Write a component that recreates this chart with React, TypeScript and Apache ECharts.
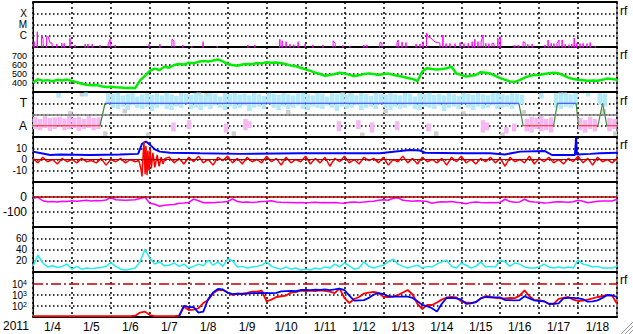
import React, { useEffect, useRef } from 'react';
import * as echarts from 'echarts';

const FONT = '"Liberation Sans", Arial, Helvetica, sans-serif';
const STEP = 0.125; // days between regular samples (day 0 = 2011-01-04 00:00)
const DAYS = 15;

const dayLabels = ['1/4', '1/5', '1/6', '1/7', '1/8', '1/9', '1/10', '1/11', '1/12', '1/13', '1/14', '1/15', '1/16', '1/17', '1/18'];
const yearLabel = '2011';
const sideTag = 'rf';

// Panel 1: X-ray flux (log10), class labels
const xrayClassLabels: Record<string, string> = { '-6': 'C', '-5': 'M', '-4': 'X' };
const XRAY_BACKGROUND = -7.3;
const xraySpikes: [number, number][] = [
  [0.03, -6.53], [0.11, -5.64], [0.22, -5.93], [0.26, -6.32], [0.35, -6.14], [0.39, -6.08], [0.44, -6.64], [0.49, -6.64],
  [0.61, -6.73], [0.74, -6.67], [0.8, -6.67], [0.95, -6.23], [1.08, -6.82], [1.34, -6.73], [1.41, -6.73], [1.52, -6.73],
  [1.72, -6.82], [1.93, -6.73], [1.98, -6.32], [2.11, -6.82], [2.98, -6.75], [3.26, -6.75], [3.57, -6.32], [3.62, -6.45],
  [3.85, -6.82], [4.08, -6.91], [4.37, -6.53], [4.73, -6.91], [5.52, -6.82], [5.7, -6.82], [6.34, -6.32], [6.4, -6.45],
  [6.5, -6.53], [6.6, -6.73], [6.7, -6.78], [6.81, -6.53], [6.99, -6.73], [7.19, -6.82], [7.45, -6.82], [7.71, -6.45],
  [7.76, -6.67], [7.96, -6.86], [8.14, -6.91], [8.5, -6.82], [8.58, -6.82], [8.91, -6.6], [8.96, -6.64], [9.35, -6.6],
  [9.38, -6.38], [9.48, -6.55], [9.58, -6.6], [9.84, -6.73], [9.94, -6.73], [10.02, -6.53], [10.11, -5.78], [10.15, -6.1],
  [10.2, -6.16], [10.25, -6.3], [10.3, -6.5], [10.35, -6.58], [10.4, -6.6], [10.45, -6.65], [10.53, -5.93], [10.61, -6.7],
  [10.71, -6.67], [10.84, -6.7], [10.97, -6.6], [11.07, -6.7], [11.18, -6.67], [11.28, -6.53], [11.35, -6.32], [11.43, -6.53],
  [11.51, -6.55], [11.56, -5.93], [11.63, -6.67], [11.71, -6.7], [11.79, -6.67], [11.84, -6.7], [11.94, -6.23], [12.0, -6.08],
  [12.36, -6.82], [12.46, -6.82], [12.59, -6.53], [12.64, -6.6], [12.71, -6.75], [12.82, -6.73], [13.15, -6.82], [13.23, -6.38],
  [13.31, -6.67], [13.38, -6.7], [13.46, -6.67], [13.51, -6.38], [13.59, -6.38], [13.67, -6.75], [13.77, -6.78], [13.84, -6.73],
  [13.9, -6.2], [13.97, -6.67], [14.05, -6.7], [14.13, -6.67], [14.23, -6.7], [14.31, -6.6], [14.44, -6.91],
];

// Panel 2: solar wind speed (green), sampled every STEP
const windSpeed = [
  403, 440, 425, 432, 420, 435, 428, 438, 422, 410,
  392, 380, 375, 378, 365, 356, 358, 352, 350, 345,
  348, 342, 430, 480, 535, 560, 545, 580, 570, 600,
  610, 605, 625, 620, 635, 645, 640, 650, 662, 640,
  610, 600, 592, 605, 612, 608, 622, 618, 630, 625,
  628, 620, 610, 595, 585, 570, 552, 535, 515, 500,
  480, 489, 500, 515, 505, 490, 478, 485, 500, 507,
  500, 490, 500, 505, 490, 480, 470, 455, 445, 420,
  530, 565, 555, 550, 555, 565, 580, 505, 490, 472,
  480, 490, 520, 515, 505, 480, 455, 435, 418, 412,
  432, 460, 478, 490, 488, 500, 508, 515, 508, 485,
  460, 445, 435, 430, 425, 428, 425, 435, 450, 445,
  435,
];

// Panel 3: sector state A = 0, T = 2
const stateLabels: Record<string, string> = { '0': 'A', '2': 'T' };
const stateTimes = [0, 1.72, 1.85, 12.48, 12.59, 13.37, 13.47, 13.95, 14.01, 14.51, 14.63, 14.74, 15];
const stateValues = [0, 0, 2, 2, 0, 0, 2, 2, 0, 0, 2, 0, 0];
const CLOUD_START = 15; // sample index where the T-cloud starts
const tCloudLo = [
  1.9, 1.6, 1.5, 1.7, 1.4, 1.8, 1.6, 1.5, 1.7, 1.3, 1.6, 1.8, 1.5, 1.4, 1.7, 1.6, 1.9, 1.5, 1.6, 1.4,
  1.7, 1.5, 1.8, 1.6, 1.4, 1.7, 1.5, 1.6, 1.8, 1.3, 1.6, 1.7, 1.5, 1.9, 1.6, 1.4, 1.7, 1.5, 1.6, 1.8,
  1.5, 1.4, 1.7, 1.6, 1.5, 1.8, 1.6, 1.3, 1.7, 1.5, 1.6, 1.8, 1.4, 1.6, 1.7, 1.5, 1.9, 1.6, 1.4, 1.7,
  1.5, 1.6, 1.8, 1.5, 1.4, 1.7, 1.6, 1.5, 1.8, 1.3, 1.6, 1.7, 1.5, 1.9, 1.6, 1.4, 1.7, 1.5, 1.6, 1.8,
  1.5, 1.6, 1.7, 1.5, 1.8, 1.9,
];
const tCloudHi = [
  2.9, 2.8, 2.92, 2.7, 2.85, 2.9, 2.6, 2.8, 2.9, 2.75, 2.88, 2.7, 2.92, 2.8, 2.65, 2.9, 2.85, 2.75, 2.92, 2.8,
  2.7, 2.9, 2.85, 2.6, 2.9, 2.8, 2.92, 2.75, 2.85, 2.7, 2.9, 2.8, 2.65, 2.92, 2.85, 2.75, 2.9, 2.8, 2.7, 2.88,
  2.92, 2.8, 2.7, 2.9, 2.85, 2.6, 2.9, 2.8, 2.92, 2.75, 2.85, 2.7, 2.9, 2.8, 2.65, 2.92, 2.85, 2.75, 2.9, 2.8,
  2.7, 2.9, 2.85, 2.6, 2.9, 2.8, 2.92, 2.75, 2.85, 2.7, 2.9, 2.8, 2.65, 2.92, 2.85, 2.75, 2.9, 2.8, 2.7, 2.88,
  2.92, 2.8, 2.7, 2.9, 2.85, 2.75,
];
const tCloudExtra: [number, number, number][] = [
  [0.6, 2.5, 2.9], [1.3, 2.6, 2.95], [13.0, 2.4, 2.9], [13.375, 1.6, 2.9], [13.5, 1.5, 2.85], [13.625, 1.7, 2.9],
  [13.75, 1.6, 2.8], [13.875, 1.8, 2.9], [14.2, 2.6, 2.9], [14.5, 1.9, 2.9], [14.625, 1.7, 2.85],
];
const aCloud: [number, number, number][] = [
  [0, -0.3, 0.8], [0.125, -0.4, 0.6], [0.25, -0.2, 0.85], [0.375, -0.45, 0.7], [0.5, -0.3, 0.75], [0.625, -0.1, 0.8],
  [0.75, -0.4, 0.65], [0.875, -0.3, 0.9], [1.0, -0.2, 0.7], [1.125, -0.45, 0.8], [1.25, -0.3, 0.6], [1.375, -0.2, 0.85],
  [1.5, -0.4, 0.7], [1.625, -0.3, 0.75],
  [3.55, -0.5, 0.3], [3.95, -0.3, 0.5], [4.9, -0.6, 0.2], [5.4, -0.4, 0.6], [5.5, -0.2, 0.4], [7.8, -0.5, 0.4],
  [8.3, -0.3, 0.5], [8.65, -0.6, 0.3], [9.3, -0.4, 0.4], [10.1, -0.5, 0.2], [11.5, -0.6, 0.5], [11.6, -0.4, 0.3],
  [12.1, -0.7, -0.1], [12.3, -0.5, 0.2],
  [12.625, -0.5, 0.6], [12.75, -0.6, 0.8], [12.875, -0.3, 0.7], [13.0, -0.5, 0.85], [13.125, -0.4, 0.6], [13.25, -0.6, 0.75],
  [14.0, -0.4, 0.7], [14.125, -0.6, 0.5], [14.25, -0.3, 0.8], [14.375, -0.5, 0.6], [14.75, -0.5, 0.7], [14.875, -0.3, 0.6],
];
const grayCloud: [number, number, number][] = [
  [0.9, 0.9, 1.3], [1.2, 2.6, 2.9], [1.8, -0.9, -0.5], [2.3, 1.1, 1.5], [2.9, -0.9, -0.6], [4.2, 2.7, 2.95], [4.4, 2.6, 2.9],
  [5.1, -0.9, -0.5], [6.5, 1.0, 1.4], [7.9, 2.7, 2.95], [8.1, 2.6, 2.9], [8.4, -0.9, -0.6], [9.0, 1.1, 1.5], [10.3, -0.9, -0.5],
  [11.0, 1.0, 1.3], [12.0, -0.9, -0.6], [12.55, 0.9, 1.4], [13.5, 2.6, 2.95], [13.6, 2.7, 2.95], [14.6, 1.0, 1.5], [14.9, -0.9, -0.5],
];

// Panel 4: magnetic field components (nT)
const bTotal: [number, number][] = [
  [0, 7], [0.18, 5.8], [0.44, 4], [0.69, 4.5], [1.46, 4], [2.23, 4.5], [2.7, 5], [2.8, 14], [2.9, 16], [3.01, 13],
  [3.13, 9], [3.26, 7], [3.52, 6], [4.29, 5.5], [5.32, 5], [6.86, 5.5], [7.89, 5.5], [8.91, 5.5], [9.43, 7.5], [9.68, 8.5],
  [9.94, 8], [10.07, 6], [10.97, 5.5], [11.74, 5.5], [12.12, 4.5], [12.51, 7], [13.15, 7.5], [13.33, 4], [13.92, 4],
  [13.95, 19.5], [13.97, 4.5], [14.31, 5], [14.56, 5.5], [15, 6],
];
const bz = [
  1, -3, 2, -2, 0, -4, 1, -2, 0, -3,
  1, -2, -1, -3, 1, -5, 0, -2, 1, -3,
  0, -2, 0, 0, 0, 0, 0, 0, 2, -3,
  1, -4, 2, -2, 3, -3, 0, -5, 2, -1,
  3, -3, 1, -4, 2, -2, 0, -3, 3, -2,
  1, -5, 2, -3, 0, -2, 3, -4, 1, -3,
  2, -6, 1, -2, 3, -3, 0, -4, 2, -1,
  1, -3, 2, -5, 0, -2, 3, -3, 1, -4,
  2, -2, 0, -3, 1, -5, 2, -2, 3, -3,
  0, -4, 1, -2, 2, -3, 1, -6, 2, -2,
  0, -3, 3, -4, 1, -2, 2, -3, 0, -4,
  1, -2, 3, -3, 1, -5, 2, -2, 0, -3,
  1,
];
const bzShock: [number, number][] = [
  [2.72, -1], [2.77, -8], [2.8, -15], [2.83, 5], [2.85, 16], [2.88, -13], [2.9, 12], [2.93, -14], [2.95, 8], [2.98, -10],
  [3.01, 10], [3.04, -8], [3.08, 6], [3.13, -7], [3.19, 4], [3.24, -6], [3.29, 2], [3.34, -4], [3.39, 1],
];

// Panel 5: Dst-like index
const dst = [
  -9, -2, -25, -32, -30, -33, -28, -30, -25, -28,
  -25, -22, -26, -24, -25, -20, -3, -18, -20, -22,
  -20, -18, -10, -2, -42, -48, -62, -55, -52, -50,
  -42, -40, -36, -14, -25, -38, -36, -38, -35, -33,
  -30, -12, -30, -35, -33, -36, -34, -30, -28, -25,
  -33, -35, -36, -37, -38, -36, -38, -37, -35, -38,
  -36, -38, -36, -40, -42, -35, -33, -36, -34, -30,
  -28, -22, -18, -22, -8, -5, -22, -25, -28, -25,
  -27, -30, -42, -35, -32, -33, -30, -35, -38, -45,
  -36, -34, -37, -38, -36, -38, -35, -15, -30, -35,
  -33, -15, -30, -33, -35, -40, -38, -33, -32, -33,
  -35, -32, -22, -28, -38, -33, -28, -27, -26, -27,
  -15,
];

// Panel 6: AE-like index
const ae = [
  10.7, 30, 16, 9, 11, 8, 10, 14, 5, 10,
  5, 7, 6, 7, 8, 10, 16.5, 10, 5, 3.5,
  5, 7, 18, 40, 25, 14, 18, 11, 12, 16,
  10, 14, 7, 10, 14, 11, 21, 12, 18, 10,
  23, 20, 9, 10, 7, 9, 10, 12, 18, 10,
  7, 5, 9, 5, 7, 3.5, 5, 3.5, 7, 5,
  9, 7, 14, 9, 16, 11, 5, 7, 18, 10,
  7, 10, 12, 18, 23, 14, 10, 7, 10, 12,
  7, 10, 9, 14, 18, 21, 10, 7, 16, 12,
  7, 10, 18, 9, 10, 9, 21, 18, 10, 16,
  14, 9, 7, 7, 9, 14, 9, 7, 9, 7,
  9, 7, 21, 14, 12, 9, 10, 7, 7, 7,
  10,
];

// Panel 7: electron flux (log)
const fluxThreshold = 10000;
const fluxRed = [
  12, 12, 12, 12, 12, 12, 12, 12, 12, 12,
  12, 12, 12, 12, 12, 12, 12, 12, 12, 12,
  12, 13, 25, 30, 15, 12, 12, 12, 12, 12,
  13, 80, 42, 45, 60, 175, 320, 1260, 2500, 2500,
  1500, 900, 1200, 1180, 1400, 1780, 1800, 2200, 250, 350,
  600, 700, 800, 1500, 1600, 2200, 2000, 2200, 2000, 2300,
  2100, 1800, 1300, 3500, 490, 175, 400, 600, 1200, 1500,
  1700, 1400, 630, 600, 650, 900, 1500, 2500, 1000, 150,
  51, 120, 117, 195, 350, 540, 600, 550, 250, 200,
  180, 200, 450, 740, 600, 500, 450, 450, 490, 480,
  800, 2300, 700, 320, 320, 250, 150, 150, 400, 490,
  600, 350, 265, 280, 350, 450, 600, 700, 900, 800,
  150,
];
const FLUX_BLUE_START = 30;
const fluxBlue = [
  11, 100, 77, 75, 25, 30, 400, 1500, 3100, 2800,
  1500, 1100, 1200, 1100, 1200, 1300, 1300, 1400, 1300, 1300,
  1400, 1900, 2000, 2100, 2000, 2500, 2600, 2400, 2700, 2600,
  2800, 2500, 2800, 3300, 2500, 800, 280, 300, 320, 500,
  1000, 1300, 1100, 700, 650, 650, 650, 650, 490, 250,
  120, 90, 60, 30, 150, 490, 500, 450, 350, 145,
  160, 220, 450, 600, 550, 550, 550, 320, 320, 300,
  320, 700, 450, 300, 260, 250, 145, 150, 160, 450,
  500, 500, 450, 380, 230, 250, 300, 500, 900, 850,
  600,
];

const sampled = (vals: number[], start = 0) => vals.map((v, i) => [(i + start) * STEP, v]);

export default function App() {
  const ref = useRef<HTMLDivElement>(null);
  useEffect(() => {
    if (!ref.current) return;
    const chart = echarts.init(ref.current, undefined, { renderer: 'svg' });

    const PH = 45;
    const grids = Array.from({ length: 7 }, (_, k) => ({
      left: 33, right: 16, top: 2 + PH * k, height: PH,
      show: true, borderColor: '#000', borderWidth: 1, backgroundColor: 'transparent',
    }));

    const dotV = { color: '#000', width: 1.5, type: [2, 3] as any };
    const dotH = { color: '#000', width: 1.5, type: [1.5, 2.5] as any };

    const xAxes: any[] = grids.map((_, k) => ({
      type: 'value', gridIndex: k, min: 0, max: DAYS, interval: 1,
      position: k === 6 ? 'top' : 'bottom',
      axisLine: { show: k < 6, onZero: false, lineStyle: { color: '#000', width: 2 } },
      axisTick: { show: false }, axisLabel: { show: false },
      splitLine: { show: true, lineStyle: dotV },
    }));
    xAxes.push({
      type: 'category', gridIndex: 6, data: dayLabels, boundaryGap: true, position: 'bottom',
      axisLine: { show: true, onZero: false, lineStyle: { color: '#000', width: 2 } },
      axisTick: { show: false },
      axisLabel: { color: '#000', fontSize: 12, fontFamily: FONT, margin: 4, interval: 0 },
      splitLine: { show: false },
    });
    xAxes.push({
      type: 'value', gridIndex: 0, min: 0, max: DAYS, position: 'top',
      axisLine: { show: true, onZero: false, lineStyle: { color: '#000', width: 2 } },
      axisTick: { show: false }, axisLabel: { show: false }, splitLine: { show: false },
    });

    const baseY = (k: number, extra: any) => ({
      type: 'value', gridIndex: k,
      axisLine: { show: true, onZero: false, lineStyle: { color: '#000', width: 1 } },
      axisTick: { show: false },
      splitLine: { show: true, lineStyle: dotH },
      ...extra,
      axisLabel: { color: '#000', fontSize: 10, lineHeight: 10, fontFamily: FONT, margin: 6, ...(extra.axisLabel || {}) },
    });

    const yAxes: any[] = [
      baseY(0, { min: -7, max: -3, interval: 1, axisLabel: { formatter: (v: number) => xrayClassLabels[String(v)] || '' } }),
      baseY(1, { min: 300, max: 800, interval: 100, axisLabel: { fontSize: 9, lineHeight: 8, formatter: (v: number) => (v > 300 && v < 800 ? String(v) : '') } }),
      baseY(2, { min: -1, max: 3, interval: 1, axisLabel: { fontSize: 12, lineHeight: 12, formatter: (v: number) => stateLabels[String(v)] || '' } }),
      baseY(3, { min: -20, max: 20, interval: 10, axisLabel: { formatter: (v: number) => (Math.abs(v) < 20 ? String(v) : '') } }),
      baseY(4, { min: -200, max: 100, interval: 100, axisLabel: { fontSize: 12, formatter: (v: number) => (v === 0 || v === -100 ? String(v) : '') } }),
      baseY(5, { min: 0, max: 80, interval: 20, axisLabel: { formatter: (v: number) => (v > 0 && v < 80 ? String(v) : '') } }),
      {
        type: 'log', gridIndex: 6, min: 10, max: 100000, logBase: 10,
        axisLine: { show: true, onZero: false, lineStyle: { color: '#000', width: 1 } },
        axisTick: { show: false },
        splitLine: { show: true, lineStyle: { ...dotH, color: ['#000', '#000', '#000', 'transparent', '#000'] } },
        axisLabel: {
          color: '#000', fontFamily: FONT, margin: 6,
          formatter: (v: number) => {
            const e = Math.round(Math.log10(v));
            return e >= 2 && e <= 4 ? `{b|10}{s|${e}}` : '';
          },
          rich: {
            b: { fontSize: 10, fontFamily: FONT, color: '#000', lineHeight: 9, padding: [2, 0, 0, 0] },
            s: { fontSize: 7, fontFamily: FONT, color: '#000', lineHeight: 7, verticalAlign: 'top' },
          },
        },
      },
    ];

    const line = (xi: number, data: any[], color: string, width: number, extra: any = {}) => ({
      type: 'line', xAxisIndex: xi, yAxisIndex: xi, data, showSymbol: false, symbol: 'none',
      lineStyle: { color, width }, itemStyle: { color }, clip: true, z: 3, silent: true, ...extra,
    });
    const mark = (value: number, color: string, width: number, type: any = 'solid') => ({
      silent: true, symbol: 'none', label: { show: false }, animation: false,
      lineStyle: { color, width, type }, data: [{ yAxis: value }],
    });

    // panel 1
    const xrayLine: number[][] = [[0, XRAY_BACKGROUND]];
    xraySpikes.forEach(([d, v], k) => {
      const prev = xraySpikes[k - 1];
      const next = xraySpikes[k + 1];
      if (!prev || d - prev[0] >= 0.06) xrayLine.push([d - 0.006, XRAY_BACKGROUND]);
      xrayLine.push([d, v]);
      if (!next || next[0] - d >= 0.06) xrayLine.push([d + 0.006, XRAY_BACKGROUND]);
    });
    xrayLine.push([DAYS, XRAY_BACKGROUND]);

    // panel 3 clouds
    const CLOUD_W = 0.115;
    const cloud = (data: number[][], color: string) => ({
      type: 'custom', xAxisIndex: 2, yAxisIndex: 2, z: 1, silent: true, clip: true,
      encode: { x: 0, y: [1, 2] },
      renderItem: (_p: any, api: any) => {
        const d = api.value(0), lo = api.value(1), hi = api.value(2);
        const p0 = api.coord([d, hi]);
        const p1 = api.coord([d + CLOUD_W, lo]);
        return { type: 'rect', shape: { x: p0[0], y: p0[1], width: p1[0] - p0[0], height: p1[1] - p0[1] }, style: { fill: color } };
      },
      data,
    });
    const tCloud = tCloudLo.map((lo, j) => [(CLOUD_START + j) * STEP, lo, tCloudHi[j]]).concat(tCloudExtra);

    const stateSeries: any[] = [];
    for (let k = 0; k < stateTimes.length - 1; k++) {
      const a = stateValues[k], b = stateValues[k + 1];
      const color = a === b ? (a === 2 ? '#3030ff' : '#ff2020') : '#3c8a3c';
      stateSeries.push(line(2, [[stateTimes[k], a], [stateTimes[k + 1], b]], color, 1.2,
        k === 0 ? { markLine: mark(1, '#808080', 1.5) } : {}));
    }

    const bzData = sampled(bz).filter(([d]) => d < 2.72 || d > 3.39).concat(bzShock).sort((p, q) => p[0] - q[0]);

    const series: any[] = [
      line(0, xrayLine, '#ff00ff', 1),
      line(1, sampled(windSpeed), '#00ee00', 2.5),
      cloud(grayCloud, '#cfcfcf'),
      cloud(aCloud, '#f5b8f2'),
      cloud(tCloud, '#b2e9fb'),
      ...stateSeries,
      line(3, bTotal, '#0000ff', 2),
      line(3, bzData, '#ff0000', 1.5, { markLine: mark(0, '#b00000', 1) }),
      line(4, sampled(dst), '#ff00ff', 1.5, { markLine: mark(0, '#b00000', 1.5) }),
      line(5, sampled(ae), '#22eeee', 1.5),
      line(6, sampled(fluxRed), '#ff0000', 1.8, { markLine: mark(fluxThreshold, '#c00000', 1.5, [10, 3, 2, 3]) }),
      line(6, sampled(fluxBlue, FLUX_BLUE_START), '#0000ff', 1.8),
    ];

    const tagYs = [11, 55, 101, 145, 280];
    const graphic: any[] = [
      { type: 'text', left: 3, top: 320, style: { text: yearLabel, fill: '#000', font: `12px ${FONT}` } },
      ...tagYs.map((y) => ({ type: 'text', x: 620, y, style: { text: sideTag, fill: '#000', font: `12px ${FONT}`, verticalAlign: 'middle' } })),
      { type: 'line', shape: { x1: 633, y1: 322, x2: 621, y2: 334 }, style: { stroke: '#999', lineWidth: 1 } },
      { type: 'line', shape: { x1: 633, y1: 326, x2: 625, y2: 334 }, style: { stroke: '#999', lineWidth: 1 } },
      { type: 'line', shape: { x1: 633, y1: 330, x2: 629, y2: 334 }, style: { stroke: '#999', lineWidth: 1 } },
    ];

    chart.setOption({
      animation: false,
      backgroundColor: '#fff',
      textStyle: { fontFamily: FONT },
      grid: grids,
      xAxis: xAxes,
      yAxis: yAxes,
      series,
      graphic,
    });
    return () => chart.dispose();
  }, []);
  return <div ref={ref} style={{ position: 'fixed', left: 0, top: 0, width: 633, height: 334 }} />;
}
